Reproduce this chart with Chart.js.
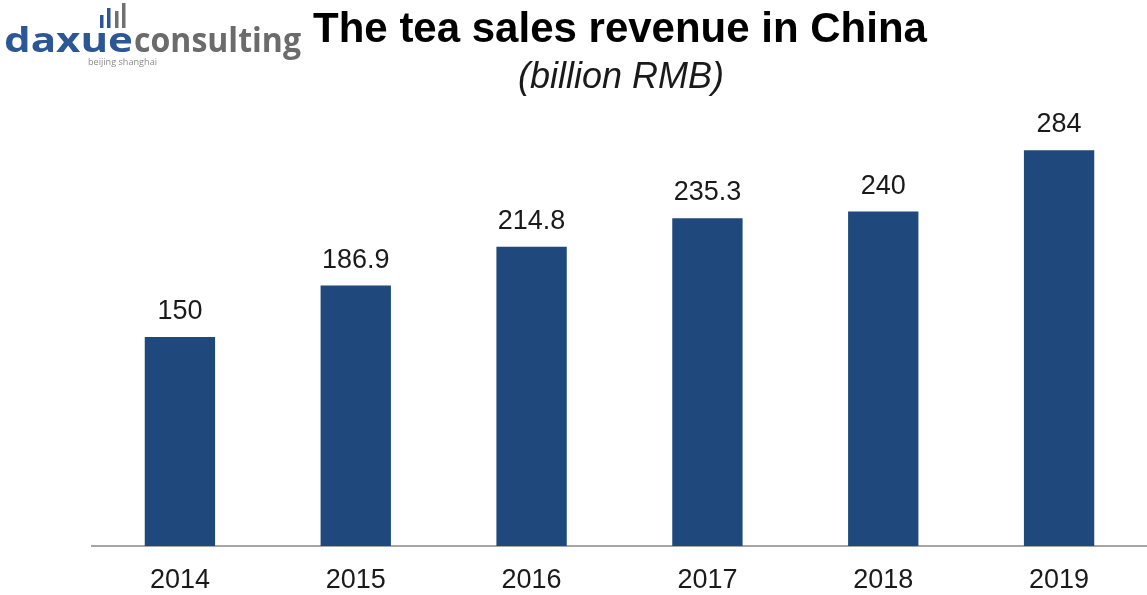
<!DOCTYPE html>
<html>
<head>
<meta charset="utf-8">
<title>The tea sales revenue in China</title>
<script src="https://cdn.jsdelivr.net/npm/chart.js@4/dist/chart.umd.min.js"></script>
<style>
  html, body { margin: 0; padding: 0; background: #fff; }
  #wrap { position: relative; width: 1147px; height: 595px; }
</style>
</head>
<body>
<div id="wrap"><canvas id="teaChart" width="1147" height="595"></canvas></div>
<script>
const years = ['2014', '2015', '2016', '2017', '2018', '2019'];
const revenue = [150, 186.9, 214.8, 235.3, 240, 284];
const valueLabels = ['150', '186.9', '214.8', '235.3', '240', '284'];

const barColor = '#1f497d';
const textColor = '#1a1a1a';

// values printed above each bar
const barValues = {
    id: 'barValues',
    afterDatasetsDraw(chart) {
        const ctx = chart.ctx;
        const meta = chart.getDatasetMeta(0);
        ctx.save();
        ctx.font = '27px "Liberation Sans", Arial, sans-serif';
        ctx.fillStyle = textColor;
        ctx.textAlign = 'center';
        ctx.textBaseline = 'alphabetic';
        meta.data.forEach((bar, i) => {
            ctx.fillText(valueLabels[i], bar.x, bar.y - 18);
        });
        ctx.restore();
    }
};

// heading, sub heading and the company logo
const header = {
    id: 'header',
    afterDraw(chart) {
        const ctx = chart.ctx;
        ctx.save();
        ctx.fillStyle = '#000';
        ctx.textAlign = 'center';
        ctx.textBaseline = 'alphabetic';
        ctx.font = 'bold 42px "Liberation Sans", Arial, sans-serif';
        ctx.fillText('The tea sales revenue in China', 620, 42);
        ctx.font = 'italic 36px "Liberation Sans", Arial, sans-serif';
        ctx.fillStyle = textColor;
        ctx.fillText('(billion RMB)', 621, 88);

        // logo words, each squeezed into its own span
        ctx.textAlign = 'left';
        ctx.font = 'bold 34px "Open Sans", sans-serif';
        const word = (txt, x0, x1, color) => {
            const w = ctx.measureText(txt).width;
            ctx.save();
            ctx.translate(x0, 52);
            ctx.scale((x1 - x0) / w, 1);
            ctx.fillStyle = color;
            ctx.fillText(txt, 0, 0);
            ctx.restore();
        };
        word('daxue', 4, 133, '#2b5797');
        word('consulting', 134, 301, '#6b6b6b');

        // little bar icon
        const icon = [[100, 15, '#2b5797'], [107, 8, '#2b5797'], [115, 11, '#707070'], [122, 3, '#707070']];
        icon.forEach(([x, top, c]) => {
            ctx.fillStyle = c;
            ctx.fillRect(x, top, 3.5, 28 - top);
        });

        ctx.font = '9px "Open Sans", sans-serif';
        ctx.fillStyle = '#8a8a8a';
        const t = 'beijing shanghai';
        const tw = ctx.measureText(t).width;
        ctx.save();
        ctx.translate(88, 65);
        ctx.scale(69 / tw, 1);
        ctx.fillText(t, 0, 0);
        ctx.restore();
        ctx.restore();
    }
};

new Chart(document.getElementById('teaChart'), {
    type: 'bar',
    data: {
        labels: years,
        datasets: [{
            data: revenue,
            backgroundColor: barColor,
            borderWidth: 0,
            barPercentage: 0.4,
            categoryPercentage: 1.0
        }]
    },
    options: {
        responsive: false,
        animation: false,
        layout: { padding: { top: 128, left: 92, right: 0, bottom: 0 } },
        plugins: {
            legend: { display: false },
            tooltip: { enabled: false }
        },
        scales: {
            y: {
                display: false,
                min: 0,
                max: 300
            },
            x: {
                grid: { display: false, drawTicks: false },
                border: { display: true, color: '#a6a6a6', width: 2 },
                afterFit(scale) { scale.height = 49; },
                ticks: {
                    color: textColor,
                    padding: 18,
                    font: { size: 27, family: '"Liberation Sans", Arial, sans-serif' }
                }
            }
        }
    },
    plugins: [barValues, header]
});
</script>
</body>
</html>
